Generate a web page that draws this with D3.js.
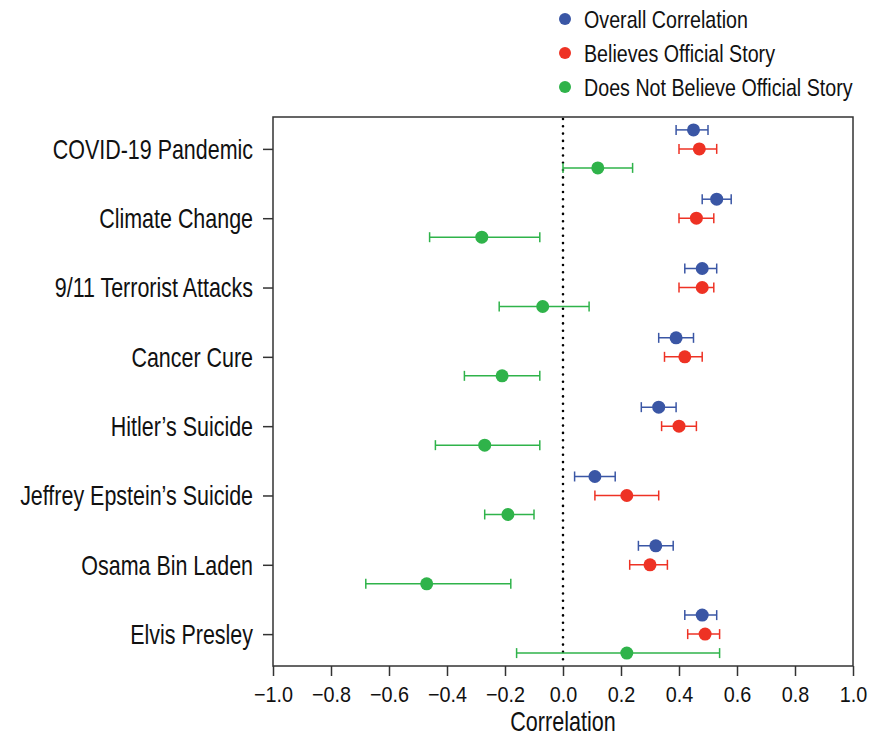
<!DOCTYPE html>
<html>
<head>
<meta charset="utf-8">
<script src="https://cdn.jsdelivr.net/npm/d3@7"></script>
<style>
  body { margin: 0; background: #fff; }
  text { font-family: "Liberation Sans", Arimo, Arial, sans-serif; fill: #111; }
</style>
</head>
<body>
<div id="main"></div>
<script>
const events = ["COVID-19 Pandemic", "Climate Change", "9/11 Terrorist Attacks", "Cancer Cure",
  "Hitler\u2019s Suicide", "Jeffrey Epstein\u2019s Suicide", "Osama Bin Laden", "Elvis Presley"]

const seriesNames = ["Overall Correlation", "Believes Official Story", "Does Not Believe Official Story"]
const seriesColors = ["#3a56a5", "#ee3224", "#2fb34a"]

// [estimate, lower, upper] per event
const overall = [[0.45, 0.39, 0.50], [0.53, 0.48, 0.58], [0.48, 0.42, 0.53], [0.39, 0.33, 0.45],
  [0.33, 0.27, 0.39], [0.11, 0.04, 0.18], [0.32, 0.26, 0.38], [0.48, 0.42, 0.53]]
const believes = [[0.47, 0.40, 0.53], [0.46, 0.40, 0.52], [0.48, 0.40, 0.52], [0.42, 0.35, 0.48],
  [0.40, 0.34, 0.46], [0.22, 0.11, 0.33], [0.30, 0.23, 0.36], [0.49, 0.43, 0.54]]
const notBelieves = [[0.12, 0.00, 0.24], [-0.28, -0.46, -0.08], [-0.07, -0.22, 0.09], [-0.21, -0.34, -0.08],
  [-0.27, -0.44, -0.08], [-0.19, -0.27, -0.10], [-0.47, -0.68, -0.18], [0.22, -0.16, 0.54]]

const xTicks = [-1.0, -0.8, -0.6, -0.4, -0.2, 0.0, 0.2, 0.4, 0.6, 0.8, 1.0]

let margin = {top: 117, right: 17, bottom: 72, left: 273}
let width = 870 - margin.left - margin.right
let height = 738 - margin.top - margin.bottom

let x = d3.scaleLinear().domain([-1, 1]).range([0, width])
let y = d3.scalePoint().domain(events).range([0, height]).padding(0.46)
let offsets = [-19, 0, 19]

// no condensed font installed, so squeeze the text horizontally
const condense = (sel, s) => {
  sel.each(function() {
    let t = d3.select(this)
    let x0 = +t.attr("x") || 0
    t.attr("x", x0 / s).attr("transform", `scale(${s},1)`)
  })
}

let svg = d3.select("#main")
  .append("svg")
    .attr("width", 870)
    .attr("height", 738)

let g = svg.append("g")
  .attr("transform", `translate(${margin.left}, ${margin.top})`)

// frame
g.append("rect")
  .attr("width", width)
  .attr("height", height)
  .attr("fill", "none")
  .attr("stroke", "#333")
  .attr("stroke-width", 1.5)

// zero line
g.append("line")
  .attr("x1", x(0)).attr("x2", x(0))
  .attr("y1", 2).attr("y2", height)
  .attr("stroke", "#000")
  .attr("stroke-width", 2.6)
  .attr("stroke-dasharray", "0,7.3")
  .attr("stroke-linecap", "round")

// x axis
let fmt = d => (d < 0 ? "\u2212" : "") + Math.abs(d).toFixed(1)
let xAxis = g.append("g")
  .attr("transform", `translate(0,${height})`)
  .call(d3.axisBottom(x).tickValues(xTicks).tickFormat(fmt).tickSize(10).tickPadding(10))
xAxis.select(".domain").remove()
xAxis.selectAll("line").attr("stroke", "#333").attr("stroke-width", 1.5)
xAxis.selectAll("text").style("font-size", "22.5px").attr("fill", "#111")
condense(xAxis.selectAll("text"), 0.88)

// y axis
let yAxis = g.append("g")
  .call(d3.axisLeft(y).tickSize(10).tickPadding(10))
yAxis.select(".domain").remove()
yAxis.selectAll("line").attr("stroke", "#333").attr("stroke-width", 1.5)
yAxis.selectAll("text").style("font-size", "27.5px").attr("dy", "0.34em").attr("fill", "#111")
condense(yAxis.selectAll("text"), 0.78)

let xLabel = g.append("text")
  .attr("x", x(0))
  .attr("y", height + 65)
  .attr("text-anchor", "middle")
  .style("font-size", "28px")
  .text("Correlation")
condense(xLabel, 0.77)

// series
const allSeries = [overall, believes, notBelieves]
allSeries.forEach((series, si) => {
  let color = seriesColors[si]
  let rows = g.append("g")
    .selectAll("g")
    .data(series)
    .enter()
    .append("g")
      .attr("transform", (d, i) => `translate(0,${y(events[i]) + offsets[si]})`)
  rows.append("line")
    .attr("x1", d => x(d[1])).attr("x2", d => x(d[2]))
    .attr("stroke", color).attr("stroke-width", 1.5)
  rows.append("line")
    .attr("x1", d => x(d[1])).attr("x2", d => x(d[1]))
    .attr("y1", -5).attr("y2", 5)
    .attr("stroke", color).attr("stroke-width", 1.5)
  rows.append("line")
    .attr("x1", d => x(d[2])).attr("x2", d => x(d[2]))
    .attr("y1", -5).attr("y2", 5)
    .attr("stroke", color).attr("stroke-width", 1.5)
  rows.append("circle")
    .attr("cx", d => x(d[0]))
    .attr("r", 6.5)
    .attr("fill", color)
})

// legend
let legend = svg.append("g")
  .selectAll("g")
  .data(seriesNames)
  .enter()
  .append("g")
    .attr("transform", (d, i) => `translate(565,${19 + i * 34})`)
legend.append("circle")
  .attr("r", 6)
  .attr("fill", (d, i) => seriesColors[i])
let legendText = legend.append("text")
  .attr("x", 19)
  .attr("dy", "0.36em")
  .style("font-size", "24px")
  .text(d => d)
condense(legendText, 0.82)
</script>
</body>
</html>
